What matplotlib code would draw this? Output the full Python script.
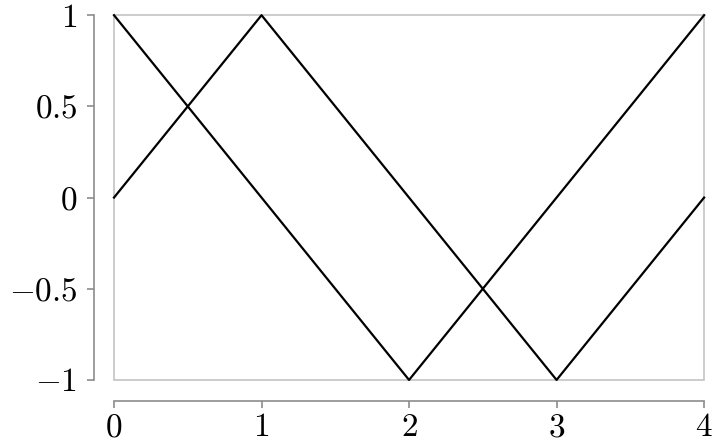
import matplotlib
matplotlib.use("Agg")
from matplotlib import pyplot as plt
from matplotlib.ticker import FuncFormatter

# two triangle waves
x_a = [0, 1, 3, 4]
y_a = [0, 1, -1, 0]
x_b = [0, 2, 4]
y_b = [1, -1, 1]

x_ticks = [0, 1, 2, 3, 4]
y_ticks = [-1, -0.5, 0, 0.5, 1]


def tex_label(v, pos):
    return "$%g$" % v


def main():
    plt.rcParams["mathtext.fontset"] = "cm"
    plt.rcParams["font.family"] = "serif"
    plt.rcParams["font.serif"] = ["cmr10", "DejaVu Serif"]

    figure = plt.figure(figsize=(7.17, 4.47), dpi=100)
    axes = figure.add_axes([0.159, 0.150, 0.823, 0.816])

    axes.plot(x_a, y_a, color="black", linewidth=1.6, clip_on=False)
    axes.plot(x_b, y_b, color="black", linewidth=1.6, clip_on=False)

    axes.set_xlim(0, 4)
    axes.set_ylim(-1, 1)
    axes.set_xticks(x_ticks)
    axes.set_yticks(y_ticks)
    axes.xaxis.set_major_formatter(FuncFormatter(tex_label))
    axes.yaxis.set_major_formatter(FuncFormatter(tex_label))

    # light frame around the data area
    axes.patch.set_edgecolor("#c4c4c4")
    axes.patch.set_linewidth(1.2)

    for side in ["top", "right"]:
        axes.spines[side].set_visible(False)
    axes.spines["left"].set_position(("outward", 14.4))
    axes.spines["bottom"].set_position(("outward", 15))
    for side in ["left", "bottom"]:
        axes.spines[side].set_color("#8c8c8c")
        axes.spines[side].set_linewidth(1.2)

    axes.tick_params(axis="both", direction="out", length=5, width=1.2,
                     color="#8c8c8c", labelsize=24)
    axes.tick_params(axis="x", pad=4)
    axes.tick_params(axis="y", pad=7)

    figure.savefig("out.png", dpi=100)


if __name__ == "__main__":
    main()
